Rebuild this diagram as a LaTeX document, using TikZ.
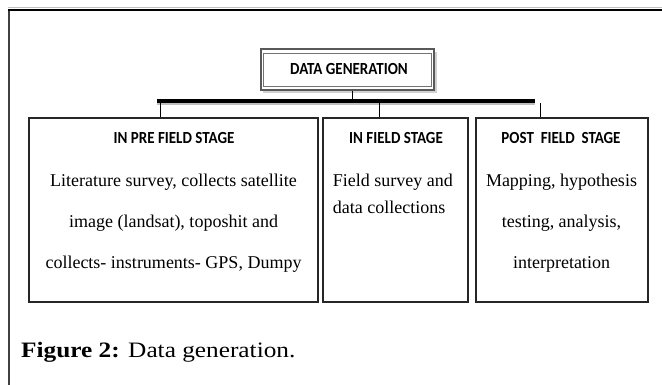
\documentclass[tikz,border=0pt]{standalone}
\usepackage{fontspec}
\setmainfont{Liberation Serif}
\newfontfamily\hdrfont{Carlito}
\newcommand{\hdrtxt}[1]{\scalebox{1}[1.13]{#1}}
\tikzset{
  stagebox/.style={draw=black!85, line width=1.2pt, fill=white, inner sep=0pt, minimum width=#1},
  hdr/.style={font=\hdrfont\bfseries\fontsize{15}{18}\selectfont, anchor=base, inner sep=0pt},
  body/.style={font=\fontsize{18}{41}\selectfont, anchor=base, inner sep=0pt, align=center},
  conn/.style={draw=black, line width=0.9pt},
  barline/.style={draw=black, line width=4pt},
  barshadow/.style={draw=black!25, line width=4pt},
}
\begin{document}
\begin{tikzpicture}[x=1pt,y=-1pt]
\useasboundingbox[fill=white] (0,0) rectangle (662,385);
% outer frame
\draw[black!25, line width=1pt] (8,8) -- (662,8);
\draw[black!75, line width=2pt] (9,10) -- (9,385);
\draw[black, line width=2.5pt] (8,10.2) -- (662,10.2);

% DATA GENERATION box
\fill[black!18] (263,52) rectangle (437,93);
\node[draw=black!65, line width=2pt, fill=white, minimum width=173pt, minimum height=40.5pt, inner sep=0pt] (dg) at (347.4,69.6) {};
\draw[black!55, line width=0.8pt] (263.5,53.5) rectangle (431.5,86.5);
\node[hdr] (dgt) at (349,75) {\hdrtxt{DATA GENERATION}};

% horizontal bar
\coordinate (barL) at (157,101);
\coordinate (barR) at (535,101);
\draw[barshadow] ([yshift=-2.5pt]barL) -- ([yshift=-2.5pt]barR);
\draw[barline] (barL) -- (barR);

% stage boxes
\node[stagebox=289pt, minimum height=184pt] (pre) at (173.5,210) {};
\node[stagebox=145pt, minimum height=184pt] (infield) at (395.5,210) {};
\node[stagebox=172pt, minimum height=184pt] (post) at (562,210) {};

% connectors
\coordinate (s) at (352,101);
\draw[conn] (s |- dg.south) -- (s);
\coordinate (d1) at (160,101);
\draw[conn] (d1) -- (d1 |- pre.north);
\coordinate (d2) at (379,101);
\draw[conn] (d2) -- (d2 |- infield.north);
\coordinate (d3) at (540,103);
\draw[conn] (d3) -- (d3 |- post.north);

% headers
\node[hdr] (h1) at (174,144) {\hdrtxt{IN PRE FIELD STAGE}};
\node[hdr] (h2) at (396,144) {\hdrtxt{IN FIELD STAGE}};
\node[hdr] (h3) at (561,144) {\hdrtxt{POST\ \ FIELD\ \ STAGE}};

% bodies (anchor base = baseline of the last line)
\node[body] (b1) at (173.5,269) {Literature survey, collects satellite\\image (landsat), toposhit and\\collects- instruments- GPS, Dumpy};
\node[font=\fontsize{18}{27}\selectfont, anchor=base west, inner sep=0pt, align=left] (b2) at (332.7,214) {Field survey and\\data collections};
\node[body] (b3) at (561.5,269) {Mapping, hypothesis\\testing, analysis,\\interpretation};

% caption
\node[anchor=base west, inner sep=0pt, font=\fontsize{22}{26}\selectfont] (cap) at (21,357) {\scalebox{1.15}[1]{\textbf{Figure 2:} Data generation.}};
\end{tikzpicture}
\end{document}
